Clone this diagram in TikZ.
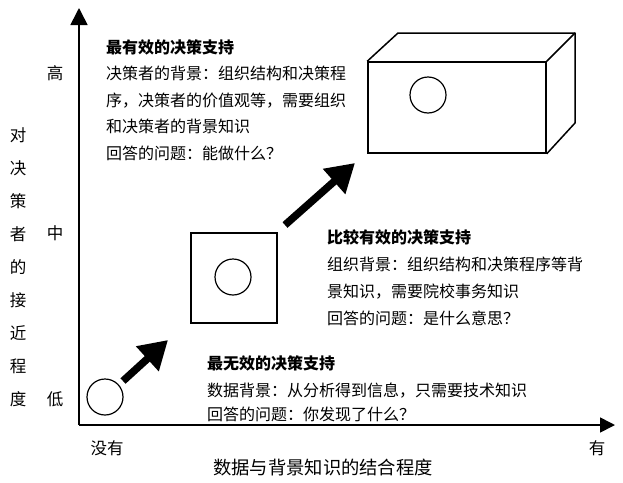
\documentclass[tikz,border=0pt]{standalone}
\usepackage{fontspec}
\newfontfamily\cjk{Noto Sans CJK SC}
\usetikzlibrary{arrows.meta}
\begin{document}
\begin{tikzpicture}[x=1pt,y=-1pt,
  axis/.style={line width=1.6pt},
  body/.style={anchor=base west, inner sep=0pt, font=\cjk\fontsize{16}{16}\selectfont},
  titletext/.style={anchor=base west, inner sep=0pt, font=\cjk\bfseries\fontsize{16}{16}\selectfont},
  lab/.style={anchor=base, inner sep=0pt, font=\cjk\fontsize{16.5}{16.5}\selectfont},
  ring/.style={circle, draw, minimum size=36pt, inner sep=0pt, line width=1.2pt},
  outline/.style={draw, line width=1.5pt},
  bigarrow/.style={line width=7.5pt, -{Triangle[length=28pt,width=32pt]}}
]
\useasboundingbox (0,0) rectangle (623,482);
% axes
\coordinate (O) at (79,425);
\coordinate (ytip) at (79,8);
\coordinate (xtip) at (615,425);
\draw[axis, -{Triangle[length=17pt,width=17pt]}] (O) -- (ytip);
\draw[axis, -{Triangle[length=15pt,width=15pt]}] (O) -- (xtip);
% y axis labels
\node[lab] (hi) at (55,79) {高};
\node[lab] (mid) at (55,239) {中};
\node[lab] (lo) at (55,405) {低};
\foreach \ch [count=\i from 0] in {对,决,策,者,的,接,近,程,度}{
  \node[lab] (v\i) at (18,{141+33*\i}) {\ch};
}
% x axis labels
\node[lab] (none) at (107,454) {没有};
\node[lab] (have) at (597,454) {有};
\node[lab, font=\cjk\fontsize{18.3}{18.3}\selectfont, anchor=base west] (xlab) at (213,474) {数据与背景知识的结合程度};
% low
\node[ring] (c1) at (105,397) {};
% mid
\node[outline, minimum width=86pt, minimum height=90pt, inner sep=0pt] (sq) at (234,278) {};
\node[ring] (c2) at (233,277) {};
% high box
\node[outline, minimum width=178pt, minimum height=91pt, inner sep=0pt] (front) at (457,107.5) {};
\coordinate (tbl) at (398,33);
\coordinate (tbr) at (575,33);
\coordinate (bbr) at (575,123);
\draw[outline, line join=round] (front.north west) -- (tbl) -- (tbr) -- (bbr) -- (front.south east);
\draw[outline] (front.north east) -- (tbr);
\node[ring] (c3) at (428,95) {};
% arrows
\coordinate (a1s) at (123,381);
\coordinate (a1e) at (168,340);
\coordinate (a2s) at (285,225);
\coordinate (a2e) at (355,163);
\draw[bigarrow] (a1s) -- (a1e);
\draw[bigarrow] (a2s) -- (a2e);
% top text
\node[titletext] (t1) at (106,53) {最有效的决策支持};
\node[body] (t2) at (106,79) {决策者的背景：组织结构和决策程};
\node[body] (t3) at (106,106) {序，决策者的价值观等，需要组织};
\node[body] (t4) at (106,132) {和决策者的背景知识};
\node[body] (t5) at (106,159) {回答的问题：能做什么？};
% middle text
\node[titletext] (m1) at (327,243) {比较有效的决策支持};
\node[body] (m2) at (327,270) {组织背景：组织结构和决策程序等背};
\node[body] (m3) at (327,297) {景知识，需要院校事务知识};
\node[body] (m4) at (327,324) {回答的问题：是什么意思？};
% bottom text
\node[titletext] (b1) at (207,369) {最无效的决策支持};
\node[body] (b2) at (207,396) {数据背景：从分析得到信息，只需要技术知识};
\node[body] (b3) at (207,420) {回答的问题：你发现了什么？};
\end{tikzpicture}
\end{document}
